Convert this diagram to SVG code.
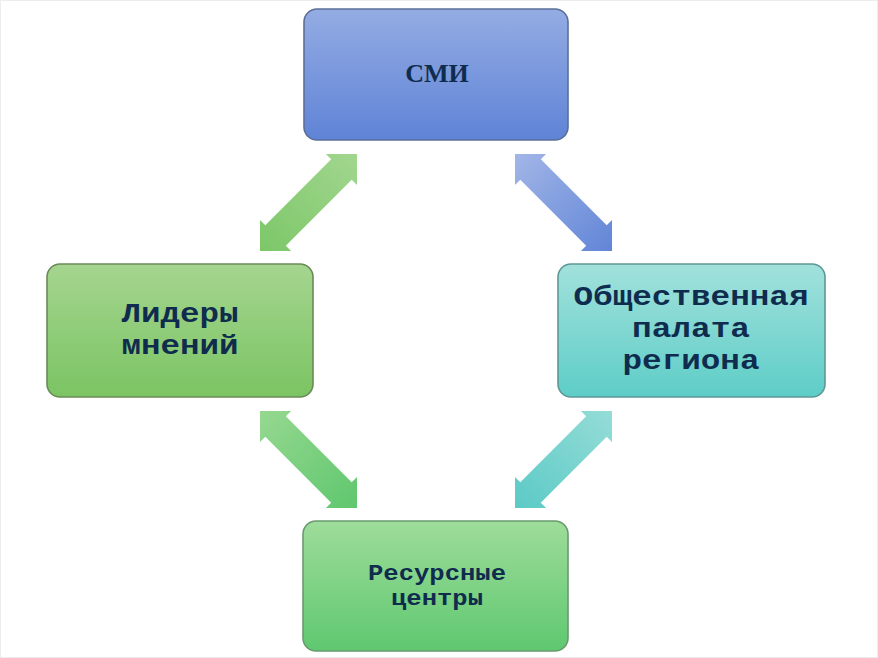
<svg xmlns="http://www.w3.org/2000/svg" width="878" height="658" viewBox="0 0 878 658">
  <style>
    .box { stroke-width: 1.6; }
    .mono { font-family: "Liberation Mono", "Courier New", monospace; font-weight: bold; fill: #0f2c4e; text-anchor: middle; }
    .big { font-size: 28px; }
    .small { font-size: 22px; }
    .serif { font-family: "Liberation Serif", "Times New Roman", serif; font-weight: bold; fill: #0f2c4e; text-anchor: middle; }
  </style>
  <defs>
    <linearGradient id="gBlue" x1="0" y1="0" x2="0" y2="1">
      <stop offset="0" stop-color="#94ace3"/>
      <stop offset="1" stop-color="#5f83d6"/>
    </linearGradient>
    <linearGradient id="gGreenL" x1="0" y1="0" x2="0" y2="1">
      <stop offset="0" stop-color="#a5d58f"/>
      <stop offset="1" stop-color="#7bc463"/>
    </linearGradient>
    <linearGradient id="gTeal" x1="0" y1="0" x2="0" y2="1">
      <stop offset="0" stop-color="#a2e1dc"/>
      <stop offset="1" stop-color="#5ecdc7"/>
    </linearGradient>
    <linearGradient id="gGreenB" x1="0" y1="0" x2="0" y2="1">
      <stop offset="0" stop-color="#9edc9a"/>
      <stop offset="1" stop-color="#5fc870"/>
    </linearGradient>
    <linearGradient id="aGreen1" x1="1" y1="0" x2="0" y2="1">
      <stop offset="0" stop-color="#a2d68f"/>
      <stop offset="1" stop-color="#7cc768"/>
    </linearGradient>
    <linearGradient id="aBlue" x1="0" y1="0" x2="1" y2="1">
      <stop offset="0" stop-color="#a2b6e7"/>
      <stop offset="1" stop-color="#6185d7"/>
    </linearGradient>
    <linearGradient id="aGreen2" x1="0" y1="0" x2="1" y2="1">
      <stop offset="0" stop-color="#96d890"/>
      <stop offset="1" stop-color="#5fc76e"/>
    </linearGradient>
    <linearGradient id="aTeal" x1="1" y1="0" x2="0" y2="1">
      <stop offset="0" stop-color="#95dcd7"/>
      <stop offset="1" stop-color="#5ccac6"/>
    </linearGradient>
  </defs>

  <rect x="0.5" y="0.5" width="877" height="657" fill="#ffffff" stroke="#ededed"/>

  <g id="connectors">
    <polygon fill="url(#aGreen1)" points="357,154 325.9,154 331.2,159.3 265.3,225.2 260,219.9 260,251 291.1,251 285.8,245.7 351.7,179.8 357,185.1"/>
    <polygon fill="url(#aBlue)" points="515,154 546.1,154 540.8,159.3 606.7,225.2 612,219.9 612,251 580.9,251 586.2,245.7 520.3,179.8 515,185.1"/>
    <polygon fill="url(#aGreen2)" points="357,508 325.9,508 331.2,502.7 265.3,436.8 260,442.1 260,411 291.1,411 285.8,416.3 351.7,482.2 357,476.9"/>
    <polygon fill="url(#aTeal)" points="515,508 546.1,508 540.8,502.7 606.7,436.8 612,442.1 612,411 580.9,411 586.2,416.3 520.3,482.2 515,476.9"/>
  </g>

  <g id="node-smi">
    <rect class="box" x="304" y="9" width="264" height="131" rx="13" fill="url(#gBlue)" stroke="#5b6f98"/>
    <text class="serif" x="437" y="82" font-size="26">СМИ</text>
  </g>

  <g id="node-lidery">
    <rect class="box" x="47" y="264" width="266" height="133" rx="13" fill="url(#gGreenL)" stroke="#6a8a58"/>
    <text class="mono big" x="180" y="322" textLength="117" lengthAdjust="spacingAndGlyphs">Лидеры</text>
    <text class="mono big" x="180" y="354" textLength="117" lengthAdjust="spacingAndGlyphs">мнений</text>
  </g>

  <g id="node-palata">
    <rect class="box" x="558" y="264" width="267" height="133" rx="13" fill="url(#gTeal)" stroke="#5e9896"/>
    <text class="mono big" x="691" y="305" textLength="235" lengthAdjust="spacingAndGlyphs">Общественная</text>
    <text class="mono big" x="691" y="337" textLength="118" lengthAdjust="spacingAndGlyphs">палата</text>
    <text class="mono big" x="691" y="369" textLength="137" lengthAdjust="spacingAndGlyphs">региона</text>
  </g>

  <g id="node-resursy">
    <rect class="box" x="303" y="521" width="265" height="130" rx="13" fill="url(#gGreenB)" stroke="#6a9a70"/>
    <text class="mono small" x="437" y="580" textLength="138" lengthAdjust="spacingAndGlyphs">Ресурсные</text>
    <text class="mono small" x="437" y="605" textLength="92" lengthAdjust="spacingAndGlyphs">центры</text>
  </g>
</svg>
